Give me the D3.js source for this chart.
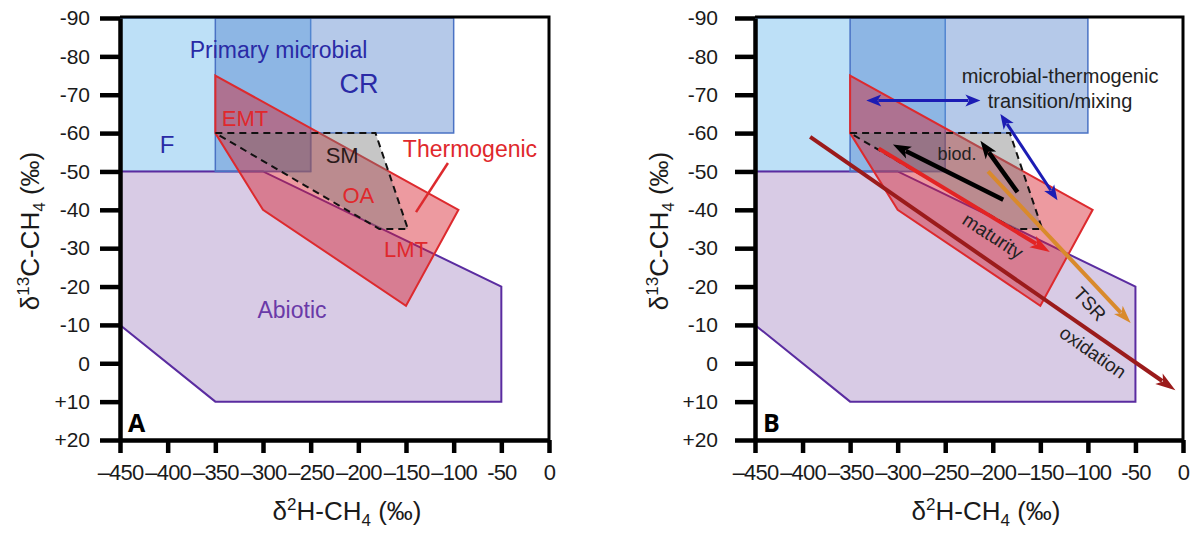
<!DOCTYPE html>
<html>
<head>
<meta charset="utf-8">
<script src="https://cdn.jsdelivr.net/npm/d3@7"></script>
<style>
  html, body { margin: 0; padding: 0; background: #fff; }
  svg { display: block; font-family: "Liberation Sans", Arial, sans-serif; }
</style>
</head>
<body>
<svg id="chart" width="1202" height="536"></svg>
<script>
// Axis values (δ2H-CH4 on x, δ13C-CH4 on y, ‰)
const xTicks = [-450, -400, -350, -300, -250, -200, -150, -100, -50, 0];
const xTickLabels = ["–450", "–400", "–350", "–300", "–250", "–200", "–150", "–100", "-50", "0"];
const yTicks = [-90, -80, -70, -60, -50, -40, -30, -20, -10, 0, 10, 20];
const yTickLabels = ["-90", "-80", "-70", "-60", "-50", "-40", "-30", "-20", "-10", "0", "+10", "+20"];

// Genetic fields, vertices as [δ2H, δ13C]
const fieldF = [[-450, -90], [-250, -90], [-250, -50], [-450, -50]];
const fieldCR = [[-350, -90], [-100, -90], [-100, -60], [-250, -60], [-250, -50], [-350, -50]];
const fieldAbiotic = [[-450, -50], [-300, -50], [-50, -20], [-50, 10], [-350, 10], [-450, -10]];
const fieldThermogenic = [[-350, -75], [-95, -40], [-150, -15], [-300, -40], [-350, -60]];
const fieldSM = [[-350, -60], [-182, -60], [-148, -35], [-178, -35]];

// Post-generation process arrows: [from, to]
const arrowMixingH = [[-333, -68.5], [-213, -68.5]];
const arrowMixingD = [[-192, -65], [-132, -42.5]];
const arrowBiod1 = [[-189, -42.6], [-305, -57]];
const arrowBiod2 = [[-174, -44.6], [-213, -58]];
const arrowMaturity = [[-320, -56], [-140, -29]];
const arrowTSR = [[-205, -50], [-55, -10.5]];
const arrowOxidation = [[-392, -59], [-8, 7]];

const svg = d3.select("#chart");
const FONT = '"Liberation Sans", Arial, sans-serif';

function drawPanel(opts) {
  const g = svg.append("g");
  const x = d3.scaleLinear().domain([-450, 0]).range([opts.left, opts.right]);
  const y = d3.scaleLinear().domain([-90, 20]).range([opts.top, opts.bottom]);
  const line = d3.line().x(d => x(d[0])).y(d => y(d[1]));
  const poly = pts => line(pts) + "Z";

  // fields
  g.append("path").attr("d", poly(fieldF))
    .attr("fill", "#bde0f7").attr("stroke", "#5b8fd6").attr("stroke-width", 1.5);
  g.append("path").attr("d", poly(fieldAbiotic))
    .attr("fill", "#d8cbe5").attr("stroke", "#5a2ca0").attr("stroke-width", 2);
  g.append("path").attr("d", poly(fieldCR))
    .attr("fill", "#4678c8").attr("fill-opacity", 0.4)
    .attr("stroke", "#4a72c4").attr("stroke-width", 1.5);
  g.append("path").attr("d", poly(fieldThermogenic))
    .attr("fill", "#d8202c").attr("fill-opacity", 0.45)
    .attr("stroke", "#dd2a2e").attr("stroke-width", 2);
  g.append("path").attr("d", poly(fieldSM))
    .attr("fill", "#777").attr("fill-opacity", 0.42)
    .attr("stroke", "#111").attr("stroke-width", 2).attr("stroke-dasharray", "7,5");

  // frame: thin top/right, heavy axes on left/bottom
  g.append("path")
    .attr("d", `M${opts.left},${opts.top - 1}H${opts.right}V${opts.bottom}`)
    .attr("fill", "none").attr("stroke", "#000").attr("stroke-width", 3);

  const yAxis = d3.axisLeft(y).tickValues(yTicks)
    .tickFormat((d, i) => yTickLabels[i]).tickSize(20).tickSizeOuter(0).tickPadding(opts.yPad);
  const ya = g.append("g").attr("transform", `translate(${opts.left},0)`).call(yAxis);
  const xAxis = d3.axisBottom(x).tickValues(xTicks)
    .tickFormat((d, i) => xTickLabels[i]).tickSize(13).tickSizeOuter(0).tickPadding(11);
  const xa = g.append("g").attr("transform", `translate(0,${opts.bottom})`).call(xAxis);
  [ya, xa].forEach(a => {
    a.select(".domain").attr("stroke", "#000").attr("stroke-width", 4.5);
    a.selectAll(".tick line").attr("stroke", "#000").attr("stroke-width", 4.5);
    a.selectAll(".tick text").attr("fill", "#1a1a1a").attr("font-family", FONT);
  });
  ya.selectAll(".tick text").attr("font-size", 21);
  xa.selectAll(".tick text").attr("font-size", 22).attr("letter-spacing", "-0.8px");

  // axis titles
  const yt = g.append("text")
    .attr("transform", `translate(${opts.yTitleX},${(opts.top + opts.bottom) / 2 + 2}) rotate(-90)`)
    .attr("text-anchor", "middle").attr("font-size", 26).attr("fill", "#1a1a1a");
  yt.append("tspan").text("δ");
  yt.append("tspan").attr("font-size", 17).attr("dy", -10).text("13");
  yt.append("tspan").attr("dy", 10).text("C-CH");
  yt.append("tspan").attr("font-size", 17).attr("dy", 6).text("4");
  yt.append("tspan").attr("dy", -6).text(" (‰)");

  const xt = g.append("text")
    .attr("x", opts.titleX).attr("y", 520)
    .attr("text-anchor", "middle").attr("font-size", 26).attr("fill", "#1a1a1a");
  xt.append("tspan").text("δ");
  xt.append("tspan").attr("font-size", 17).attr("dy", -10).text("2");
  xt.append("tspan").attr("dy", 10).text("H-CH");
  xt.append("tspan").attr("font-size", 17).attr("dy", 6).text("4");
  xt.append("tspan").attr("dy", -6).text(" (‰)");

  // panel letter
  g.append("text").attr("x", opts.left + 8).attr("y", 432)
    .attr("font-family", '"Open Sans", "Liberation Sans", sans-serif')
    .attr("font-weight", "bold").attr("font-size", 25).attr("fill", "#000")
    .text(opts.letter);

  return { g, x, y };
}

function label(p, text, dx, dy, o) {
  o = o || {};
  const t = p.g.append("text")
    .attr("x", p.x(dx)).attr("y", p.y(dy))
    .attr("text-anchor", o.anchor || "middle")
    .attr("font-size", o.size || 22)
    .attr("fill", o.color || "#222")
    .text(text);
  if (o.rotate) {
    t.attr("dy", "0.35em")
     .attr("transform", `rotate(${o.rotate},${p.x(dx)},${p.y(dy)})`);
  }
  return t;
}

function arrow(p, seg, color, width, headLen, headW, both) {
  const a = [p.x(seg[0][0]), p.y(seg[0][1])];
  const b = [p.x(seg[1][0]), p.y(seg[1][1])];
  const dx = b[0] - a[0], dy = b[1] - a[1];
  const L = Math.hypot(dx, dy), ux = dx / L, uy = dy / L;
  const nx = -uy, ny = ux;
  const s = both ? [a[0] + ux * headLen * 0.8, a[1] + uy * headLen * 0.8] : a;
  const e = [b[0] - ux * headLen * 0.8, b[1] - uy * headLen * 0.8];
  p.g.append("line").attr("x1", s[0]).attr("y1", s[1]).attr("x2", e[0]).attr("y2", e[1])
    .attr("stroke", color).attr("stroke-width", width);
  const head = (tip, dir) => {
    const bx = tip[0] - dir * ux * headLen, by = tip[1] - dir * uy * headLen;
    p.g.append("path")
      .attr("d", `M${tip[0]},${tip[1]}L${bx + nx * headW / 2},${by + ny * headW / 2}` +
                 `L${bx + dir * ux * headLen * 0.25},${by + dir * uy * headLen * 0.25}` +
                 `L${bx - nx * headW / 2},${by - ny * headW / 2}Z`)
      .attr("fill", color);
  };
  head(b, 1);
  if (both) head(a, -1);
}

// ---- Panel A: genetic fields ----
const A = drawPanel({ left: 120, right: 549, top: 18, bottom: 440, yPad: 10,
                      yTitleX: 39, titleX: 347, letter: "A" });
label(A, "Primary microbial", -283.7, -79.6, { color: "#2a2aa6", size: 23 });
label(A, "CR", -199.3, -70.4, { color: "#2a2aa6", size: 27 });
label(A, "F", -400.7, -54.8, { color: "#2a2aa6", size: 24 });
label(A, "EMT", -318.9, -61.8, { color: "#e0282c" });
label(A, "SM", -217, -52.2, { color: "#2a1a1a" });
label(A, "OA", -200, -41.8, { color: "#e0282c" });
label(A, "LMT", -150, -27.7, { color: "#e0282c" });
label(A, "Thermogenic", -82.9, -53.8, { color: "#e0282c", size: 23 });
label(A, "Abiotic", -269.6, -11.8, { color: "#6a3aa8", size: 23 });
A.g.append("line")
  .attr("x1", A.x(-106)).attr("y1", A.y(-52.2))
  .attr("x2", A.x(-139.5)).attr("y2", A.y(-39.4))
  .attr("stroke", "#dd2a2e").attr("stroke-width", 2.5);

// ---- Panel B: secondary processes ----
const B = drawPanel({ left: 755, right: 1183, top: 18, bottom: 440, yPad: 17,
                      yTitleX: 668, titleX: 986, letter: "B" });
arrow(B, arrowOxidation, "#9b1b1b", 4, 20, 13, false);
arrow(B, arrowMaturity, "#e32424", 4, 20, 13, false);
arrow(B, arrowTSR, "#d98a2c", 4, 18, 12, false);
arrow(B, arrowBiod1, "#000", 4.5, 18, 13, false);
arrow(B, arrowBiod2, "#000", 4.5, 18, 13, false);
arrow(B, arrowMixingH, "#1c1cb4", 3, 15, 12, true);
arrow(B, arrowMixingD, "#1c1cb4", 3, 15, 12, true);
label(B, "microbial-thermogenic", -129.3, -73, { size: 20 });
label(B, "transition/mixing", -129.3, -66.5, { size: 20 });
label(B, "biod.", -237.6, -53, { size: 18 });
label(B, "maturity", -199.7, -33.2, { size: 19, rotate: 33 });
label(B, "TSR", -98, -15.5, { size: 19, rotate: 47 });
label(B, "oxidation", -94.6, -2.9, { size: 19, rotate: 35 });
</script>
</body>
</html>
